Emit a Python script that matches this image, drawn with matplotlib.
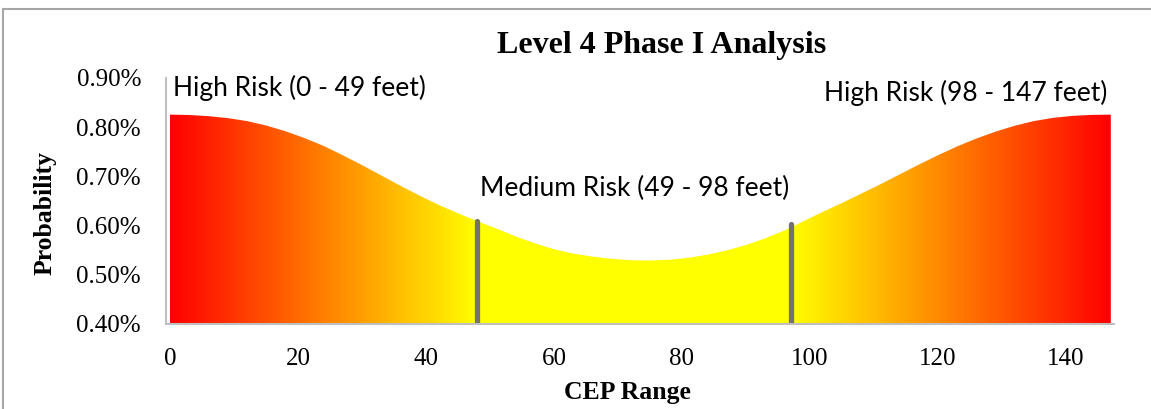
import numpy as np
import matplotlib
matplotlib.use("Agg")
import matplotlib.pyplot as plt
from matplotlib.colors import to_rgb
from matplotlib.patches import Rectangle

plt.rcParams["font.family"] = ["Liberation Serif", "DejaVu Serif"]

# ---- data (probability in %) ----
cep_range = [0, 3, 6, 9, 12, 15, 18, 21, 24, 27, 30, 33, 36, 39, 42, 45, 48,
             51, 54, 57, 60, 63, 66, 69, 72, 75, 78, 81, 84, 87, 90, 93, 96,
             99, 102, 105, 108, 111, 114, 117, 120, 123, 126, 129, 132, 135,
             138, 141, 144, 147]
probability_pct = [0.8255, 0.8248, 0.8225, 0.8185, 0.8125, 0.8035, 0.792,
                   0.778, 0.762, 0.743, 0.723, 0.702, 0.681, 0.661, 0.642,
                   0.625, 0.609, 0.594, 0.578, 0.564, 0.552, 0.543, 0.537,
                   0.5325, 0.5295, 0.529, 0.5305, 0.5345, 0.541, 0.5495,
                   0.5605, 0.574, 0.590, 0.609, 0.628, 0.646, 0.665, 0.684,
                   0.704, 0.724, 0.743, 0.761, 0.777, 0.791, 0.803, 0.8125,
                   0.819, 0.823, 0.825, 0.8255]
boundaries = [48, 97]
boundary_tops_pct = [0.609, 0.603]
y_ticks_pct = [0.40, 0.50, 0.60, 0.70, 0.80, 0.90]
x_ticks = [0, 20, 40, 60, 80, 100, 120, 140]
labels = ["High Risk (0 - 49 feet)", "Medium Risk (49 - 98 feet)", "High Risk (98 - 147 feet)"]

W, H = 1151, 409
fig = plt.figure(figsize=(W / 100, H / 100), dpi=100)
ax = fig.add_axes([166 / W, 1 - 324 / H, (1114 - 166) / W, (324 - 78) / H])

x = np.array(cep_range, dtype=float)
y = np.array(probability_pct) / 100.0
ymin, ymax = 0.004, 0.009

# gradient fill red -> yellow -> yellow -> red
stops = [0, 48, 97, 147]
cols = [to_rgb("#FF0000"), to_rgb("#FFFF00"), to_rgb("#FFFF00"), to_rgb("#FF0000")]
xs = np.linspace(0, 147, 800)
img = np.zeros((1, len(xs), 3))
for c in range(3):
    img[0, :, c] = np.interp(xs, stops, [cc[c] for cc in cols])
poly = ax.fill_between(x, ymin, y, color="none", lw=0)
im = ax.imshow(img, extent=[0, 147, ymin, ymax], aspect="auto", origin="lower",
               interpolation="bilinear", zorder=1)
path = poly.get_paths()[0]
im.set_clip_path(path, transform=ax.transData)

for bx, bt in zip(boundaries, boundary_tops_pct):
    ax.plot([bx, bx], [ymin, bt / 100.0], color="#767171", lw=3.8,
            solid_capstyle="round", zorder=3)

ax.set_xlim(-0.625, 147.5)
ax.set_ylim(ymin, ymax)
ax.set_xticks(x_ticks)
ax.set_yticks([v / 100 for v in y_ticks_pct])
ax.set_yticklabels([f"{v:.2f}%" for v in y_ticks_pct])
ax.tick_params(length=0, labelsize=18)
ax.tick_params(axis="y", pad=18)
ax.tick_params(axis="x", pad=17)
for s in ["top", "right"]:
    ax.spines[s].set_visible(False)
for s in ["left", "bottom"]:
    ax.spines[s].set_color("#BFBFBF")
    ax.spines[s].set_linewidth(1.5)
    ax.spines[s].set_zorder(4)

fig.text(627 / W, 1 - 392 / H, "CEP Range", ha="center", va="center",
         fontweight="bold", fontsize=18.5)
fig.text(45 / W, 1 - 213 / H, "Probability", ha="center", va="center",
         rotation=90, fontweight="bold", fontsize=18.5)

fig.text(662 / W, 1 - 45 / H, "Level 4 Phase I Analysis", ha="center",
         va="center", fontweight="bold", fontsize=23)

tfont = dict(fontfamily="Lato", fontsize=19, color="#000000")
fig.text(173 / W, 1 - 88 / H, labels[0], ha="left", va="center", **tfont)
fig.text(480 / W, 1 - 188 / H, labels[1], ha="left", va="center", **tfont)
fig.text(1107 / W, 1 - 93 / H, labels[2], ha="right", va="center", **tfont)

fig.add_artist(Rectangle((3 / W, -0.1), 1.2, (1 - 9 / H) + 0.1,
                         transform=fig.transFigure, fill=False,
                         edgecolor="#A6A6A6", lw=1.5))

fig.savefig("out.png", dpi=100)
